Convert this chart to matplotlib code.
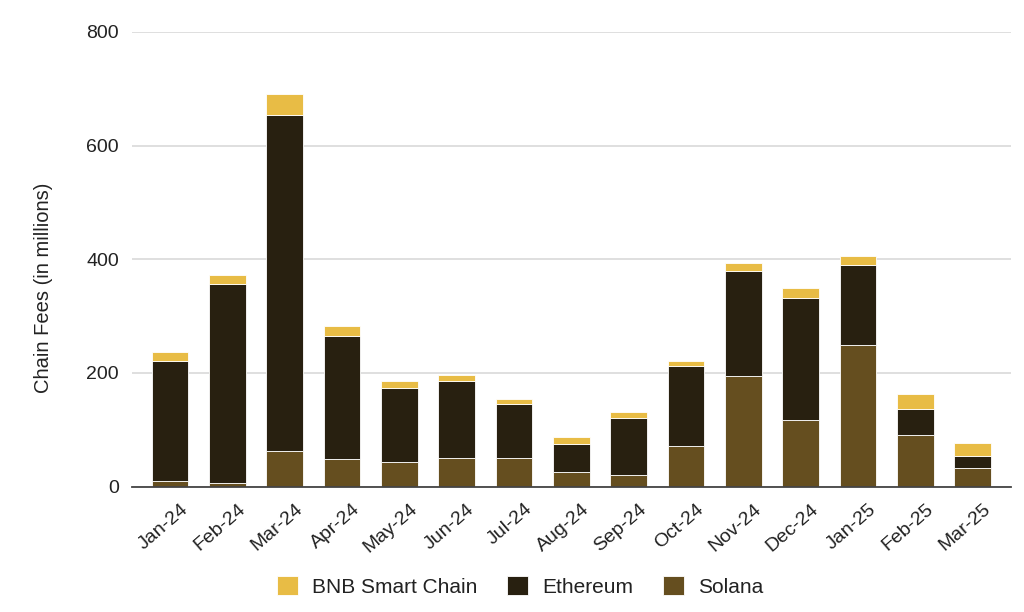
import matplotlib.pyplot as plt
import matplotlib.transforms as mtransforms
import numpy as np

plt.rcParams['font.family'] = ['Liberation Sans', 'DejaVu Sans']

# Data (chain fees, millions)
months = ["Jan-24", "Feb-24", "Mar-24", "Apr-24", "May-24", "Jun-24", "Jul-24", "Aug-24",
          "Sep-24", "Oct-24", "Nov-24", "Dec-24", "Jan-25", "Feb-25", "Mar-25"]
solana = [10, 7, 63, 48, 44, 51, 51, 26, 20, 72, 195, 117, 249, 90, 32]
ethereum = [211, 350, 591, 216, 129, 134, 94, 48.5, 100, 139.5, 185, 215, 141, 46, 21]
bnb = [15, 14.5, 36, 19, 12, 12, 9, 12.5, 12, 10, 13, 18, 15.5, 27, 24]

col_bnb = "#E8BC45"
col_eth = "#282010"
col_sol = "#654E1F"

fig = plt.figure(figsize=(10.24, 6.12), dpi=100)
ax = fig.add_axes([0.129, 0.205, 0.858, 0.743])

x = np.arange(len(months))
w = 0.64
sol = np.array(solana)
eth = np.array(ethereum)
ax.bar(x, sol, w, color=col_sol, edgecolor="white", linewidth=0.6, label="Solana", zorder=3)
ax.bar(x, eth, w, bottom=sol, color=col_eth, edgecolor="white", linewidth=0.6,
       label="Ethereum", zorder=3)
ax.bar(x, bnb, w, bottom=sol + eth, color=col_bnb, edgecolor="white", linewidth=0.6,
       label="BNB Smart Chain", zorder=3)

ax.set_xlim(-0.66, len(months) - 1 + 0.66)
ax.set_ylim(0, 800)
ax.set_yticks([0, 200, 400, 600, 800])
ax.grid(axis="y", color="#d9d9d9", linewidth=1.2, zorder=0)

for s in ["top", "right", "left"]:
    ax.spines[s].set_visible(False)
ax.spines["bottom"].set_color("#444444")
ax.spines["bottom"].set_linewidth(1.3)
ax.spines["bottom"].set_zorder(4)

ax.tick_params(axis="y", length=0, pad=9.5, labelsize=14, labelcolor="#222222")
ax.tick_params(axis="x", length=0, pad=10, labelsize=14, labelcolor="#222222")
ax.set_xticks(x)
ax.set_xticklabels(months, rotation=41, ha="right", rotation_mode="anchor")
# nudge tick labels right so their tips sit just right of the bar centre
shift = mtransforms.ScaledTranslation(10 / 100, 0, fig.dpi_scale_trans)
for lab in ax.get_xticklabels():
    lab.set_transform(lab.get_transform() + shift)

ax.set_ylabel("Chain Fees (in millions)", fontsize=14.5, color="#222222")
ax.yaxis.set_label_coords(-0.090, 0.438)

handles, labels = ax.get_legend_handles_labels()
order = [2, 1, 0]
fig.legend([handles[i] for i in order], [labels[i] for i in order],
           loc="center", bbox_to_anchor=(0.508, 0.042), ncol=3, frameon=False,
           fontsize=15, handlelength=1.0, handleheight=1.0, handletextpad=0.67,
           columnspacing=1.45, labelcolor="#222222")

plt.savefig("out.png", dpi=100)
